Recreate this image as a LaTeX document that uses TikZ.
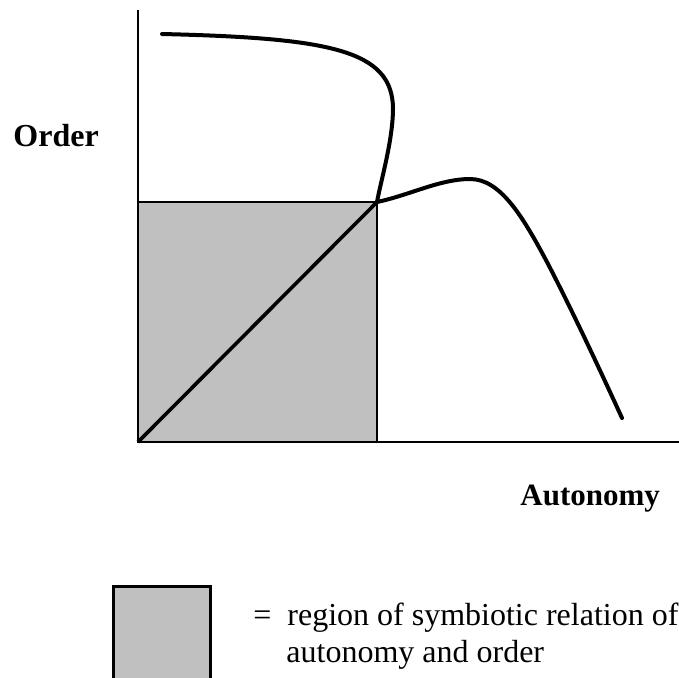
\documentclass[tikz,border=0pt]{standalone}
\usepackage{fontspec}
\setmainfont{Liberation Serif}
\usetikzlibrary{positioning,calc}
\definecolor{symgray}{HTML}{C0C0C0}
\tikzset{
  lbl/.style={anchor=base west,inner sep=0pt,font=\fontsize{16}{18.5}\selectfont},
  curve/.style={line width=2pt,line cap=round},
}

\begin{document}
\begin{tikzpicture}[x=0.5pt,y=-0.5pt]
  \useasboundingbox (0,0) rectangle (679,677);
  \coordinate (O) at (138,442);
  \coordinate (P) at (377,202);
  \fill[symgray] (O) rectangle (P);
  \draw[line width=1pt] (138,202) -- (P) -- (377,442);
  \draw[line width=1pt] (138,10) -- (O) -- (679,442);
  \draw[line width=1.8pt] (O) -- (P);
  \draw[curve] (162,34) .. controls (330,38) and (392,50) .. (393,108)
    .. controls (393,140) and (381,180) .. (P);
  \draw[curve] (P) .. controls (410,195) and (440,179) .. (470,179)
    .. controls (500,179) and (522,215) .. (547,262)
    .. controls (572,310) and (600,370) .. (622,418);
  \node[lbl,font=\fontsize{16}{18.5}\selectfont\bfseries] (order) at (13,146) {Order};
  \node[lbl,font=\fontsize{15.5}{18.5}\selectfont\bfseries] (auto) at (520,505) {Autonomy};
  % legend
  \fill[symgray,draw=black,line width=1.5pt] (113,586) rectangle (210,690);
  \node[lbl] (eq) at (253,625) {=};
  \node[lbl] (key1) at (287,625) {region of symbiotic relation of};
  \node[lbl] (key2) at (286,662) {autonomy and order};
\end{tikzpicture}
\end{document}
